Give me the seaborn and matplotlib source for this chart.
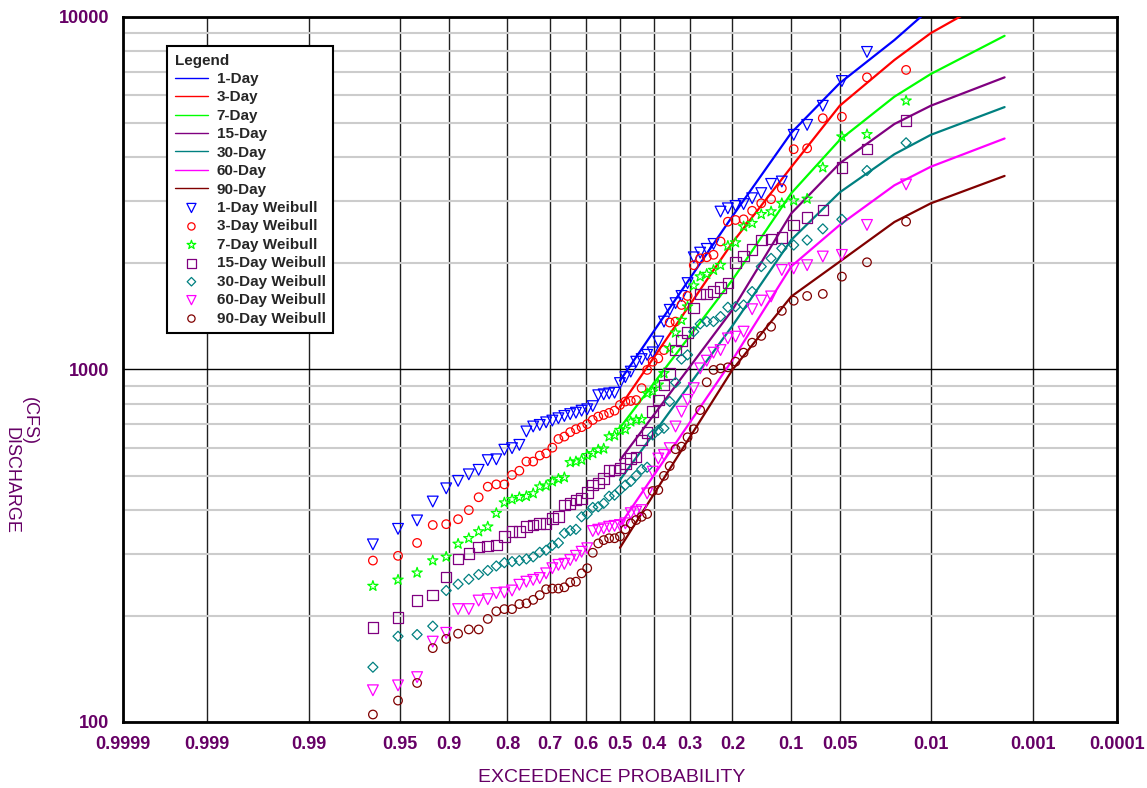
import matplotlib
matplotlib.use("Agg")
import matplotlib.pyplot as plt
import matplotlib.ticker as mticker
from matplotlib.transforms import Bbox
import numpy as np
import seaborn as sns
from statistics import NormalDist

# fitted frequency curves (exceedance probability -> discharge, cfs)
fit_prob = [0.5, 0.2, 0.1, 0.05, 0.02, 0.01, 0.002]
fit_1day = [929, 2720, 4690, 6490, 8600, 10600, 13500]
fit_3day = [783, 2290, 3750, 5600, 7550, 9000, 11800]
fit_7day = [683, 1795, 3160, 4480, 5940, 6890, 8840]
fit_15day = [553, 1476, 2770, 3845, 4970, 5600, 6740]
fit_30day = [486, 1330, 2330, 3180, 4080, 4630, 5550]
fit_60day = [362, 1064, 1960, 2570, 3330, 3760, 4520]
fit_90day = [312, 998, 1610, 2023, 2620, 2960, 3540]

# observed annual series, ranked (Weibull plotting position m/(n+1), n = 61)
n_years = 61
wb_1day = [7957, 6580, 5597, 4940, 4630, 3413, 3360, 3164, 3060, 2945,
           2910, 2865, 2804, 2270, 2198, 2145, 2080, 1758, 1616, 1542,
           1476, 1367, 1200, 1118, 1100, 1070, 1052, 986, 951, 915,
           859, 855, 850, 845, 787, 771, 764, 754, 747, 738,
           727, 716, 708, 696, 689, 667, 611, 598, 592, 556,
           553, 519, 504, 483, 460, 422, 373, 353, 319]  # ranks 2..60
wb_3day = [7075, 6740, 5210, 5160, 4240, 4215, 3266, 3042, 2960, 2819,
           2666, 2655, 2625, 2307, 2115, 2081, 2066, 1976, 1616, 1524,
           1367, 1359, 1135, 1075, 1052, 997, 885, 819, 814, 811,
           793, 764, 753, 743, 735, 719, 700, 686, 677, 664,
           645, 635, 600, 578, 570, 548, 548, 516, 502, 472,
           472, 465, 434, 399, 376, 364, 362, 322, 296, 287]
wb_7day = [5785, 4644, 4575, 3740, 3047, 3013, 2960, 2805, 2755, 2600,
           2543, 2291, 2241, 1976, 1914, 1865, 1834, 1729, 1507, 1381,
           1271, 1148, 975, 905, 865, 855, 722, 719, 711, 676,
           673, 650, 645, 596, 592, 578, 571, 554, 548, 545,
           494, 489, 481, 468, 465, 445, 437, 434, 428, 419,
           391, 358, 347, 332, 320, 294, 287, 265, 253, 243]
wb_15day = [5086, 4215, 3740, 2831, 2703, 2570, 2366, 2344, 2328, 2191,
            2099, 2009, 1758, 1711, 1663, 1638, 1635, 1493, 1274, 1208,
            1136, 975, 904, 819, 760, 662, 631, 564, 560, 542,
            525, 519, 517, 491, 476, 470, 447, 431, 426, 417,
            413, 382, 378, 366, 365, 362, 358, 347, 347, 336,
            318, 316, 314, 300, 290, 258, 229, 221, 198, 185]
wb_30day = [4395, 3667, 2666, 2505, 2328, 2254, 2206, 2066, 1958, 1663,
            1524, 1507, 1501, 1413, 1367, 1367, 1346, 1280, 1100, 1070,
            918, 811, 681, 673, 652, 528, 521, 500, 481, 470,
            455, 440, 437, 417, 408, 406, 389, 382, 352, 349,
            343, 322, 317, 307, 303, 294, 290, 287, 285, 283,
            277, 269, 262, 254, 246, 236, 187, 177, 175, 143]
wb_60day = [3349, 2570, 2113, 2091, 1976, 1935, 1915, 1611, 1568, 1482,
            1280, 1239, 1225, 1135, 1116, 1059, 1007, 885, 820, 759,
            689, 598, 572, 559, 513, 445, 399, 395, 391, 366,
            362, 360, 358, 354, 351, 348, 311, 304, 296, 288,
            281, 279, 273, 264, 256, 253, 250, 245, 236, 233,
            232, 223, 221, 209, 209, 179, 169, 134, 127, 123]
wb_90day = [2626, 2014, 1834, 1638, 1616, 1567, 1466, 1322, 1245, 1191,
            1116, 1052, 1014, 1007, 997, 920, 767, 677, 642, 604,
            594, 532, 499, 455, 452, 389, 382, 374, 366, 352,
            336, 332, 332, 328, 321, 302, 273, 264, 250, 249,
            241, 239, 239, 238, 229, 222, 217, 216, 209, 209,
            206, 196, 183, 183, 178, 172, 162, 129, 115, 105]

durations = ["1-Day", "3-Day", "7-Day", "15-Day", "30-Day", "60-Day", "90-Day"]
line_colors = ["#0000ff", "#ff0000", "#00ff00", "#800080", "#008080", "#ff00ff", "#800000"]
markers = ["v", "o", "*", "s", "D", "v", "o"]
marker_sizes = [60, 38, 60, 58, 26, 60, 38]

major_p = [0.9999, 0.999, 0.99, 0.95, 0.9, 0.8, 0.7, 0.6, 0.5, 0.4,
           0.3, 0.2, 0.1, 0.05, 0.01, 0.001, 0.0001]
major_lbl = ["0.9999", "0.999", "0.99", "0.95", "0.9", "0.8", "0.7", "0.6", "0.5", "0.4",
             "0.3", "0.2", "0.1", "0.05", "0.01", "0.001", "0.0001"]
minor_p = ([0.9999 - 0.0001 * k for k in range(1, 9)]
           + [0.999 - 0.001 * k for k in range(1, 9)]
           + [0.98, 0.97, 0.96, 0.94, 0.93, 0.92, 0.91]
           + [0.9 - 0.01 * k for k in range(1, 10)]
           + [0.78, 0.76, 0.74, 0.72, 0.68, 0.66, 0.64, 0.62,
              0.58, 0.56, 0.54, 0.52, 0.48, 0.46, 0.44, 0.42,
              0.38, 0.36, 0.34, 0.32, 0.28, 0.26, 0.24, 0.22]
           + [0.2 - 0.01 * k for k in range(1, 10)]
           + [0.09, 0.08, 0.07, 0.06, 0.04, 0.03, 0.02, 0.015]
           + [0.01 - 0.001 * k for k in range(1, 9)]
           + [0.001 - 0.0001 * k for k in range(1, 9)])

purple = "#660066"

sns.set_style("white")
plt.rcParams["font.family"] = ["Liberation Sans", "DejaVu Sans"]

nd = NormalDist()


def prob_fwd(p):
    p = np.clip(np.asarray(p, dtype=float), 1e-9, 1 - 1e-9)
    return np.vectorize(nd.inv_cdf, otypes=[float])(p)


def prob_inv(z):
    return np.vectorize(nd.cdf, otypes=[float])(np.asarray(z, dtype=float))


fig = plt.figure(figsize=(11.47, 7.88), dpi=100)
ax = fig.add_axes([0.1072, 0.0838, 0.8666, 0.8947])

fits = [fit_1day, fit_3day, fit_7day, fit_15day, fit_30day, fit_60day, fit_90day]
obs = [wb_1day, wb_3day, wb_7day, wb_15day, wb_30day, wb_60day, wb_90day]

# Fitted curves
for name, vals, col in zip(durations, fits, line_colors):
    sns.lineplot(x=fit_prob, y=vals, color=col, lw=1.6, sort=False,
                 label=name, ax=ax, zorder=3)

# Weibull points
for name, vals, col, mk, sz in zip(durations, obs, line_colors, markers, marker_sizes):
    first_rank = 61 - len(vals)
    ranks = np.arange(first_rank, first_rank + len(vals))
    p = ranks / (n_years + 1)
    sns.scatterplot(x=p, y=vals, marker=mk, s=sz, color=col, facecolors="none",
                    edgecolor=col, linewidth=0.9, label=name + " Weibull",
                    ax=ax, zorder=4)

ax.set_xscale("function", functions=(prob_fwd, prob_inv))
ax.set_xlim(0.9999, 0.0001)
ax.set_yscale("log")
ax.set_ylim(100, 10000)

ax.set_xticks(major_p, labels=major_lbl)
ax.xaxis.set_minor_locator(mticker.FixedLocator(minor_p))
ax.xaxis.set_minor_formatter(mticker.NullFormatter())
ax.set_yticks([100, 1000, 10000], labels=["100", "1000", "10000"])
ax.yaxis.set_minor_locator(mticker.LogLocator(base=10, subs=range(2, 10)))
ax.yaxis.set_minor_formatter(mticker.NullFormatter())

ax.tick_params(which="both", direction="in", colors="black", width=1)
ax.tick_params(which="major", length=8, pad=10, labelsize=13, labelcolor=purple)
ax.tick_params(which="minor", length=5)
for lbl in ax.get_xticklabels() + ax.get_yticklabels():
    lbl.set_fontweight("bold")

ax.grid(False)
ax.xaxis.grid(True, which="major", color="#202020", lw=1.0)
ax.yaxis.grid(True, which="minor", color="#cccccc", lw=1.5)
ax.yaxis.grid(True, which="major", color="black", lw=1.0)
ax.set_axisbelow(True)
for sp in ax.spines.values():
    sp.set_visible(True)
    sp.set_color("black")
    sp.set_linewidth(2)

ax.set_xlabel("")
ax.set_ylabel("")

fig.text(612 / 1147, 1 - 777 / 788, "EXCEEDENCE PROBABILITY", ha="center", va="center",
         fontsize=14, color=purple)
fig.text(29 / 1147, 1 - 397 / 788, "(CFS)", rotation=-90, ha="center", va="top",
         fontsize=13, color=purple)
ylab = fig.text(11 / 1147, 1 - 427 / 788, "DISCHARGE", rotation=-90, ha="center",
                va="top", fontsize=13, color=purple)
# the left part of this label is cut off in the original
ylab.set_clip_box(Bbox.from_extents(7, 0, 60, 788))
ylab.set_clip_on(True)

handles, labels = ax.get_legend_handles_labels()
leg = ax.legend(handles, labels, loc="upper left", bbox_to_anchor=(0.0443, 0.9589),
                borderaxespad=0, title="Legend", alignment="left", frameon=True,
                fancybox=False, edgecolor="black", framealpha=1,
                prop={"weight": "bold", "size": 11},
                title_fontproperties={"weight": "bold", "size": 11},
                handlelength=2.2, handletextpad=0.55, labelspacing=0.29,
                borderpad=0.5, scatterpoints=1, markerscale=0.85)
leg.get_frame().set_linewidth(1.5)
for ln in leg.get_lines():
    ln.set_linewidth(1.0)

fig.savefig("out.png", dpi=100)
